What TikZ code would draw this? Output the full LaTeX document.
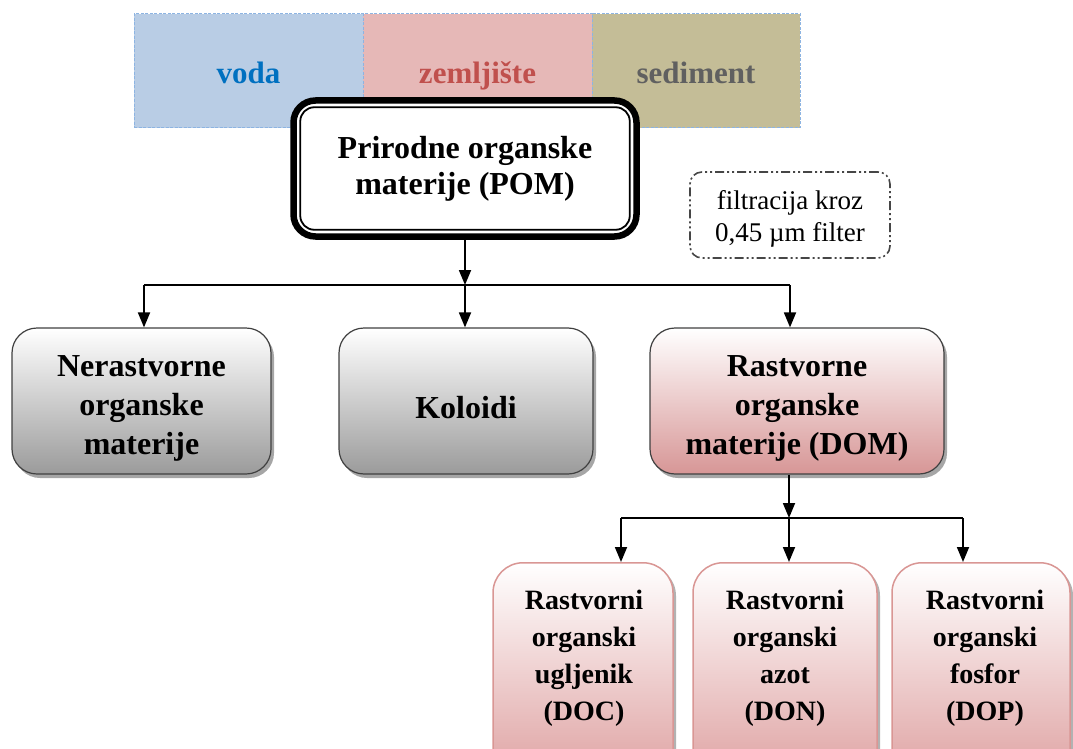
\documentclass[tikz,border=0pt]{standalone}
\usepackage{fontspec}
\setmainfont{Liberation Serif}
\usetikzlibrary{arrows.meta,shadows}
\definecolor{bandblue}{RGB}{185,205,229}
\definecolor{bandpink}{RGB}{230,184,183}
\definecolor{bandolive}{RGB}{196,189,151}
\definecolor{bandline}{RGB}{141,180,226}
\definecolor{vodac}{RGB}{0,112,192}
\definecolor{zemc}{RGB}{192,80,77}
\definecolor{sedc}{RGB}{96,96,96}
\definecolor{grayend}{RGB}{155,155,155}
\definecolor{pinkend}{RGB}{215,150,150}
\definecolor{pinkline}{RGB}{217,150,148}
\definecolor{pinkend3}{RGB}{222,160,160}
\definecolor{filtline}{RGB}{70,70,70}
\newcommand{\lowstrut}{\rule{0pt}{36pt}}
\newcommand{\bandstrut}{\rule[-8pt]{0pt}{42pt}}
\begin{document}
\begin{tikzpicture}[x=1pt,y=-1pt,
  band/.style={draw=bandline, line width=1pt, dash pattern=on 3pt off 1.5pt,
    minimum height=114pt, inner sep=0pt, font=\fontsize{31}{36}\selectfont\bfseries},
  pombox/.style={draw=black, line width=6.5pt, fill=white, rounded corners=22pt,
    minimum width=343pt, minimum height=136pt, align=center,
    font=\fontsize{32}{36}\selectfont\bfseries},
  filtbox/.style={draw=filtline, line width=1.6pt, rounded corners=12pt,
    dash pattern=on 9pt off 3pt on 2pt off 3pt on 2pt off 3pt,
    minimum width=200pt, minimum height=86pt, align=center,
    font=\fontsize{27}{32}\selectfont},
  graybox/.style={draw=black!75, line width=1.2pt, rounded corners=25pt,
    top color=white, bottom color=grayend, minimum height=146pt, align=center,
    font=\fontsize{32}{39}\selectfont\bfseries,
    drop shadow={shadow xshift=3pt, shadow yshift=-4pt, opacity=0.35, fill=black}},
  pinkbox/.style={graybox, bottom color=pinkend},
  smallbox/.style={draw=pinkline, line width=1.5pt, rounded corners=30pt,
    top color=white, bottom color=pinkend3, minimum height=222pt, anchor=north,
    drop shadow={shadow xshift=3pt, shadow yshift=-3pt, opacity=0.3, fill=black}},
  smalltext/.style={align=center, inner sep=0pt, font=\fontsize{28}{37}\selectfont\bfseries},
  conn/.style={line width=1.8pt},
  arr/.style={conn, -{Triangle[length=15pt,width=12pt]}}
]
\useasboundingbox (0,0) rectangle (1073,749);
\clip (0,0) rectangle (1073,749);

% background bands
\node[band, fill=bandblue, minimum width=229pt] (voda) at (248.5,71) {\bandstrut\textcolor{vodac}{voda}};
\node[band, fill=bandpink, minimum width=229pt] (zem) at (477.5,71) {\bandstrut\textcolor{zemc}{zemljište}};
\node[band, fill=bandolive, minimum width=208pt] (sed) at (696,71) {\bandstrut\textcolor{sedc}{sediment}};

% POM
\node[pombox] (POM) at (465,168.5) {Prirodne organske\\materije (POM)};
\draw[line width=1.8pt, rounded corners=14pt]
  ([shift={(10pt,-10pt)}]POM.north west) rectangle ([shift={(-10pt,10pt)}]POM.south east);

% filter note
\node[filtbox] (filt) at (790,215) {\rule{0pt}{27pt}filtracija kroz\\0,45 µm filter};

% row 2
\node[graybox, minimum width=259pt] (Ner) at (141.5,401) {\lowstrut Nerastvorne\\organske\\materije};
\node[graybox, minimum width=254pt] (Kol) at (466,401) {\lowstrut Koloidi};
\node[pinkbox, minimum width=294pt] (DOM) at (797,401) {\lowstrut Rastvorne\\organske\\materije (DOM)};

% row 3
\node[smallbox, minimum width=180pt] (DOC) at (583,562) {};
\node[smallbox, minimum width=184pt] (DON) at (785,562) {};
\node[smallbox, minimum width=178pt] (DOP) at (981,562) {};
\node[smalltext] (DOCt) at (584,658) {Rastvorni\\organski\\ugljenik\\(DOC)};
\node[smalltext] (DONt) at (785,658) {Rastvorni\\organski\\azot\\(DON)};
\node[smalltext] (DOPt) at (985,658) {Rastvorni\\organski\\fosfor\\(DOP)};

% connectors POM -> row 2
\coordinate (j1) at (465,285);
\coordinate (b1) at (144,285);
\coordinate (b2) at (465,285);
\coordinate (b3) at (790,285);
\draw[arr] (POM.south) -- (j1);
\draw[conn] (b1) -- (b3);
\draw[arr] (b1) -- (b1 |- Ner.north);
\draw[arr] (b2) -- (b2 |- Kol.north);
\draw[arr] (b3) -- (b3 |- DOM.north);

% connectors DOM -> row 3
\coordinate (j2) at (789,518);
\coordinate (c1) at (621,518);
\coordinate (c2) at (789,518);
\coordinate (c3) at (963,518);
\draw[arr] (DOM.south -| j2) -- (j2);
\draw[conn] (c1) -- (c3);
\draw[arr] (c1) -- (c1 |- DOC.north);
\draw[arr] (c2) -- (c2 |- DON.north);
\draw[arr] (c3) -- (c3 |- DOP.north);
\end{tikzpicture}
\end{document}
